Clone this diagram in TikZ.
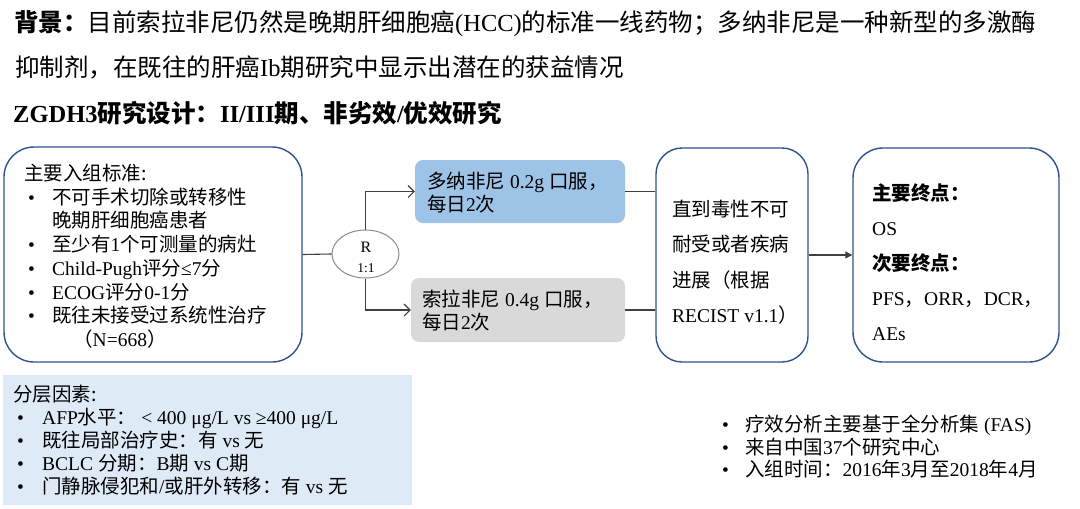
\documentclass[tikz,border=0pt]{standalone}
\usepackage{fontspec}
\setmainfont{Liberation Serif}
\newfontfamily\cjk{Noto Sans CJK SC}
\usetikzlibrary{shapes.geometric,arrows.meta}
\definecolor{boxblue}{HTML}{2F528F}
\definecolor{fillblue}{HTML}{9DC3E6}
\definecolor{fillgray}{HTML}{D9D9D9}
\definecolor{bgblue}{HTML}{DEEBF7}
\definecolor{linegray}{HTML}{404040}
\definecolor{ellgray}{HTML}{8C8C8C}
\newcommand\zh[1]{{\cjk #1}}
\newcommand\bulw[2]{\hspace*{#1}\makebox[#2][l]{•}}
\begin{document}
\begin{tikzpicture}[x=1pt,y=-1pt,
  bigbox/.style={draw=boxblue, line width=1.4pt, rounded corners=#1, inner sep=0pt},
  armbox/.style={fill=#1, rounded corners=8pt, inner sep=0pt},
  txt/.style={inner sep=0pt, anchor=north west, align=left, text=black},
  conn/.style={draw=linegray, line width=1.1pt},
  openhead/.style={-{Straight Barb[length=6pt,width=12pt,line width=1.1pt]}},
  fillhead/.style={-{Triangle[length=7pt,width=7pt]}}]
\useasboundingbox (0,0) rectangle (1080,509);
\fill[white] (0,0) rectangle (1080,509);

% title
\node[txt, font=\fontsize{24.5}{30}\selectfont] (t1) at (14,10)
  {{\bfseries\zh{背景：}}\zh{目前索拉非尼仍然是晚期肝细胞癌}(HCC)\zh{的标准一线药物；多纳非尼是一种新型的多激酶}};
\node[txt, font=\fontsize{24.5}{30}\selectfont] (t2) at (15,56)
  {\zh{抑制剂，在既往的肝癌}Ib\zh{期研究中显示出潜在的获益情况}};
\node[txt, font=\fontsize{24.5}{30}\selectfont\bfseries] (t3) at (13,101)
  {ZGDH3\zh{研究设计：}II/III\zh{期、非劣效}/\zh{优效研究}};

% boxes
\node[bigbox=30pt, minimum width=298pt, minimum height=215pt] (incl) at (153,254.5) {};
\node[bigbox=26pt, minimum width=152pt, minimum height=214pt] (cont) at (732,255) {};
\node[bigbox=30pt, minimum width=206pt, minimum height=214pt] (endp) at (956,255) {};
\node[armbox=fillblue, minimum width=210pt, minimum height=63pt] (blue) at (520,191.5) {};
\node[armbox=fillgray, minimum width=214pt, minimum height=64pt] (gray) at (518,310) {};
\node[draw=ellgray, line width=1pt, ellipse, inner sep=0pt, minimum width=67pt, minimum height=48pt] (rand) at (365.5,254) {};
\node[fill=bgblue, inner sep=0pt, minimum width=409pt, minimum height=130pt] (strat) at (207.5,440) {};

% texts in boxes
\node[txt, font=\fontsize{19.5}{23.7}\selectfont] (incltxt) at (24,164)
  {\zh{主要入组标准:}\\
   \bulw{4pt}{24pt}\zh{不可手术切除或转移性}\\
   \hspace*{28pt}\zh{晚期肝细胞癌患者}\\
   \bulw{4pt}{24pt}\zh{至少有}1\zh{个可测量的病灶}\\
   \bulw{4pt}{24pt}Child-Pugh\zh{评分}≤7\zh{分}\\
   \bulw{4pt}{24pt}ECOG\zh{评分}0-1\zh{分}\\
   \bulw{4pt}{24pt}\zh{既往未接受过系统性治疗}\\
   \hspace*{49pt}\zh{（}N=668\zh{）}};
\node[inner sep=0pt, anchor=north, font=\fontsize{16}{18}\selectfont] (rl1) at (366,242) {R};
\node[inner sep=0pt, anchor=north, font=\fontsize{13.5}{15}\selectfont] (rl2) at (366,263) {1:1};
\node[txt, font=\fontsize{19.5}{23}\selectfont] (bluetxt) at (427,172)
  {\zh{多纳非尼} 0.2g \zh{口服，}\\\zh{每日}2\zh{次}};
\node[txt, font=\fontsize{19.5}{23}\selectfont] (graytxt) at (422,290)
  {\zh{索拉非尼} 0.4g \zh{口服，}\\\zh{每日}2\zh{次}};
\node[txt, font=\fontsize{19.5}{35.3}\selectfont] (conttxt) at (672,200)
  {\zh{直到毒性不可}\\\zh{耐受或者疾病}\\\zh{进展（根据}\\RECIST v1.1\zh{）}};
\node[txt, font=\fontsize{19.5}{35.2}\selectfont] (endptxt) at (872,183)
  {{\bfseries\zh{主要终点：}}\\OS\\{\bfseries\zh{次要终点：}}\\PFS\zh{，}ORR\zh{，}DCR\zh{，}\\AEs};
\node[txt, font=\fontsize{19.5}{23}\selectfont] (strattxt) at (13,385)
  {\zh{分层因素:}\\
   \bulw{4pt}{25pt}AFP\zh{水平：} < 400 μg/L vs ≥400 μg/L\\
   \bulw{4pt}{25pt}\zh{既往局部治疗史：有} vs \zh{无}\\
   \bulw{4pt}{25pt}BCLC \zh{分期：}B\zh{期} vs C\zh{期}\\
   \bulw{4pt}{25pt}\zh{门静脉侵犯和}/\zh{或肝外转移：有} vs \zh{无}};
\node[txt, font=\fontsize{19.5}{22.5}\selectfont] (notes) at (722,415)
  {\bulw{0pt}{23pt}\zh{疗效分析主要基于全分析集} (FAS)\\
   \bulw{0pt}{23pt}\zh{来自中国}37\zh{个研究中心}\\
   \bulw{0pt}{23pt}\zh{入组时间：}2016\zh{年}3\zh{月至}2018\zh{年}4\zh{月}};

% connectors
\draw[conn] (incl.east) -- (rand.west);
\draw[conn, openhead] (rand.north) |- (blue.west);
\draw[conn, openhead] (rand.south) |- (gray.west);
\draw[conn] (blue.east) -- (blue.east -| cont.west);
\draw[conn] (gray.east) -- (gray.east -| cont.west);
\draw[conn, fillhead] (cont.east) -- (endp.west);
\end{tikzpicture}
\end{document}
